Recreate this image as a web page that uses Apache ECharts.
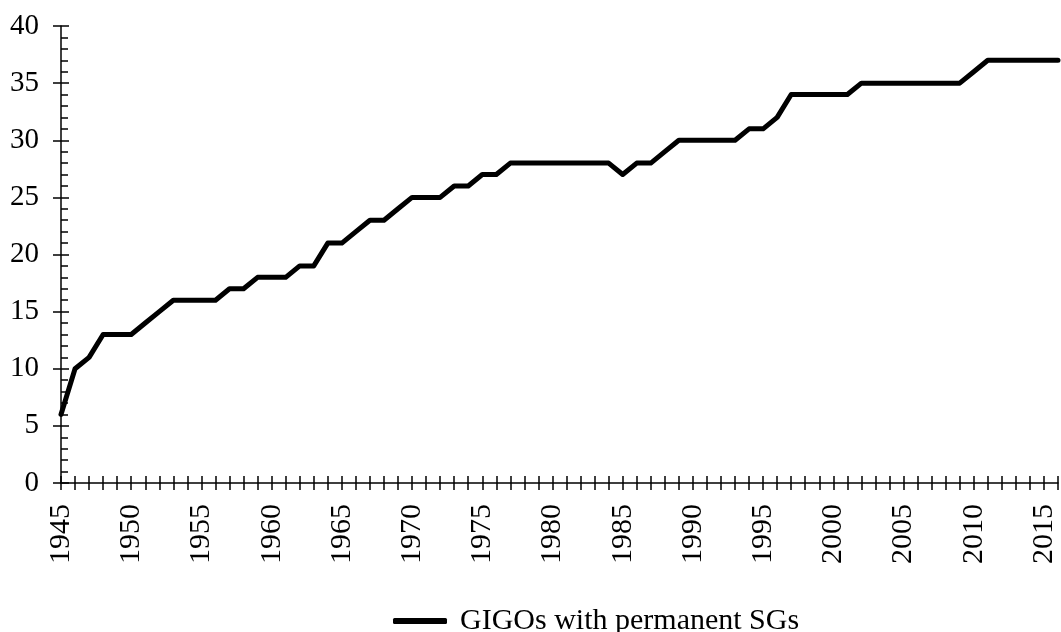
<!DOCTYPE html>
<html>
<head>
<meta charset="utf-8">
<script src="https://cdn.jsdelivr.net/npm/echarts@6/dist/echarts.min.js"></script>
<style>
  html, body { margin: 0; padding: 0; background: #fff; }
  #chart { width: 1061px; height: 632px; }
</style>
</head>
<body>
<div id="chart"></div>
<script>
// years on the x axis
const years = [
  1945, 1946, 1947, 1948, 1949, 1950, 1951, 1952, 1953, 1954,
  1955, 1956, 1957, 1958, 1959, 1960, 1961, 1962, 1963, 1964,
  1965, 1966, 1967, 1968, 1969, 1970, 1971, 1972, 1973, 1974,
  1975, 1976, 1977, 1978, 1979, 1980, 1981, 1982, 1983, 1984,
  1985, 1986, 1987, 1988, 1989, 1990, 1991, 1992, 1993, 1994,
  1995, 1996, 1997, 1998, 1999, 2000, 2001, 2002, 2003, 2004,
  2005, 2006, 2007, 2008, 2009, 2010, 2011, 2012, 2013, 2014,
  2015, 2016
]
// GIGOs with permanent SGs
const gigoCounts = [
  6, 10, 11, 13, 13, 13, 14, 15, 16, 16,
  16, 16, 17, 17, 18, 18, 18, 19, 19, 21,
  21, 22, 23, 23, 24, 25, 25, 25, 26, 26,
  27, 27, 28, 28, 28, 28, 28, 28, 28, 28,
  27, 28, 28, 29, 30, 30, 30, 30, 30, 31,
  31, 32, 34, 34, 34, 34, 34, 35, 35, 35,
  35, 35, 35, 35, 35, 36, 37, 37, 37, 37,
  37, 37
]
const seriesName = 'GIGOs with permanent SGs'

const font = "'Liberation Serif', 'DejaVu Serif', serif"
const black = '#000'

const myChart = echarts.init(document.getElementById('chart'))

const option = {
  animation: false,
  textStyle: { fontFamily: font },
  grid: {
    left: 61,
    right: 3,
    top: 26,
    bottom: 149,
    containLabel: false
  },
  legend: {
    show: true,
    left: 388,
    top: 601,
    icon: 'roundRect',
    itemWidth: 54,
    itemHeight: 6,
    itemGap: 10,
    textStyle: {
      fontFamily: font,
      fontSize: 30,
      color: black,
      padding: [0, 0, 0, 8]
    },
    data: [seriesName]
  },
  xAxis: [
    {
      type: 'value',
      min: 1945,
      max: 2016,
      interval: 1,
      splitLine: { show: false },
      axisLine: { show: true, onZero: false, lineStyle: { color: black, width: 1.5 } },
      axisTick: { show: true, inside: false, length: 7, lineStyle: { color: black, width: 1.5 } },
      axisLabel: {
        rotate: 90,
        margin: 21,
        fontFamily: font,
        fontSize: 30,
        color: black,
        showMaxLabel: true,
        formatter: function (v) {
          return v % 5 === 0 ? String(v) : ''
        }
      }
    },
    {
      type: 'value',
      position: 'bottom',
      min: 1945,
      max: 2016,
      interval: 1,
      splitLine: { show: false },
      axisLine: { show: false, onZero: false },
      axisTick: { show: true, inside: true, length: 7, lineStyle: { color: black, width: 1.5 } },
      axisLabel: { show: false }
    }
  ],
  yAxis: [
    {
      type: 'value',
      min: 0,
      max: 40,
      interval: 5,
      splitLine: { show: false },
      axisLine: { show: true, onZero: false, lineStyle: { color: black, width: 1.5 } },
      axisTick: { show: true, inside: true, length: 8, lineStyle: { color: black, width: 1.5 } },
      minorTick: { show: true, splitNumber: 5, length: 7, lineStyle: { color: black, width: 1.5 } },
      axisLabel: {
        margin: 22,
        fontFamily: font,
        fontSize: 29,
        color: black
      }
    },
    {
      type: 'value',
      position: 'left',
      min: 0,
      max: 40,
      interval: 5,
      splitLine: { show: false },
      axisLine: { show: false },
      axisTick: { show: true, inside: false, length: 8, lineStyle: { color: black, width: 1.5 } },
      axisLabel: { show: false }
    }
  ],
  series: [
    {
      name: seriesName,
      type: 'line',
      xAxisIndex: 0,
      yAxisIndex: 0,
      data: years.map((y, i) => [y, gigoCounts[i]]),
      symbol: 'none',
      showSymbol: false,
      itemStyle: { color: black },
      lineStyle: { color: black, width: 5, cap: 'round', join: 'round' }
    }
  ]
}
myChart.setOption(option)
</script>
</body>
</html>
